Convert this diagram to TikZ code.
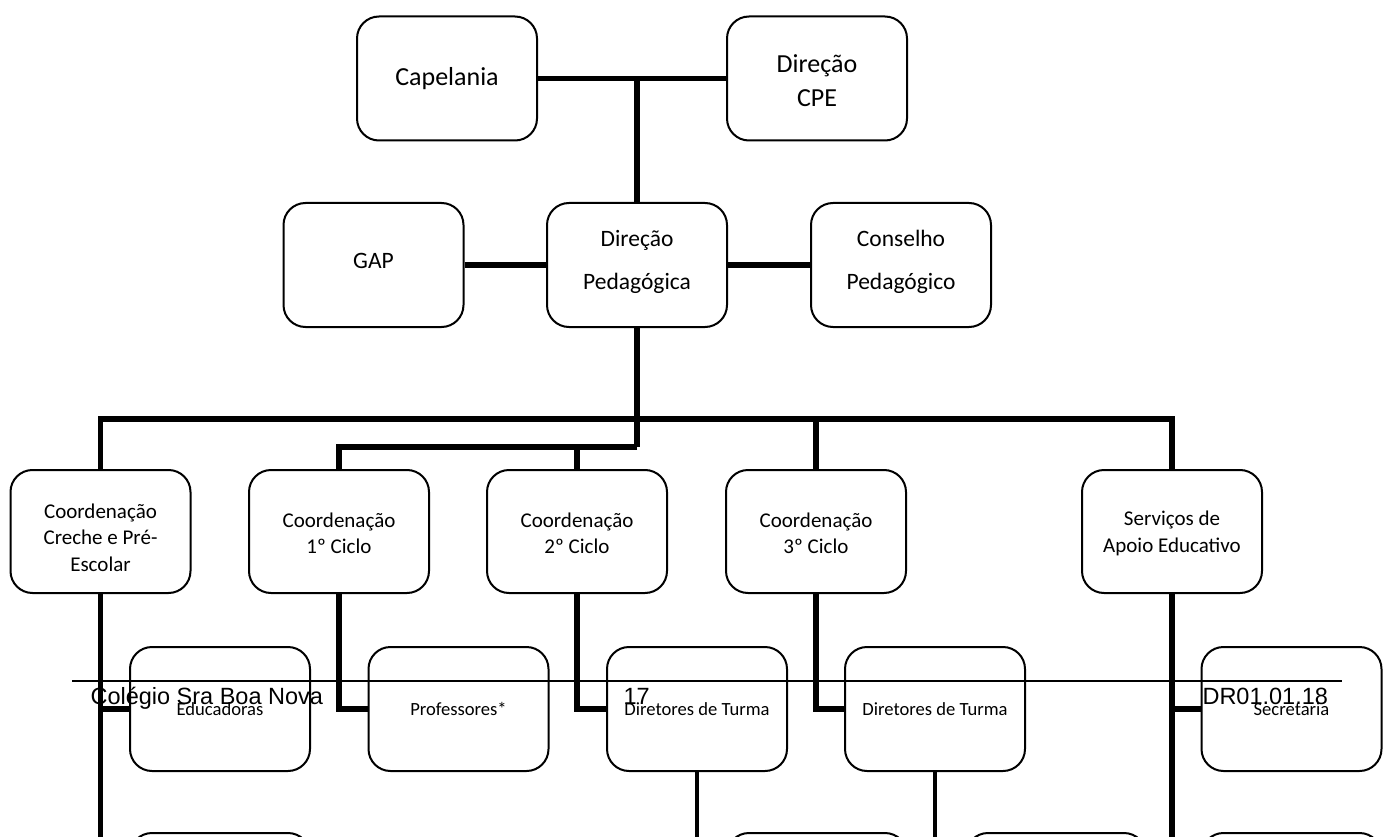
\documentclass[tikz,border=0pt]{standalone}
\usepackage{fontspec}
\setmainfont{Carlito}
\newfontfamily\arialf{Liberation Sans}
\begin{document}
\begin{tikzpicture}[x=1pt,y=-1pt,
  box/.style={draw, line width=2pt, rounded corners=22pt, minimum width=180pt,
    minimum height=124pt, align=center, fill=white, inner sep=0pt},
  fa/.style={font=\fontsize{26}{34}\selectfont},
  fb/.style={font=\fontsize{23.5}{43}\selectfont},
  fc/.style={font=\fontsize{21}{26.5}\selectfont},
  fd/.style={font=\fontsize{18.6}{22}\selectfont},
  lab/.style 2 args={label={[#1,align=center]center:#2}},
  thick link/.style={line width=5.5pt},
  thin link/.style={line width=3.5pt},
  footer/.style={anchor=base west, font=\arialf\fontsize{23.5}{28}\selectfont}]
\useasboundingbox (0,0) rectangle (1392,837);
\clip (0,0) rectangle (1392,837);
% row 1
\node[box,fa] (cap) at (447,78.5) {Capelania};
\node[box,lab={fa,yshift=-2pt}{Direção\\CPE}] (cpe) at (817,78.5) {};
% row 2
\node[box,lab={fb,yshift=4pt}{GAP}] (gap) at (373.5,265) {};
\node[box,lab={fb,yshift=3pt}{Direção\\Pedagógica}] (dp) at (637,265) {};
\node[box,lab={fb,yshift=3pt}{Conselho\\Pedagógico}] (cp) at (901,265) {};
% row 3
\tikzset{crow/.style={box,minimum height=123pt}}
\node[crow,lab={fc,yshift=-6pt}{Coordenação\\Creche e Pré-\\Escolar}] (cre) at (100.5,531.5) {};
\node[crow,lab={fc,yshift=-2pt}{Coordenação\\1º Ciclo}] (c1) at (339,531.5) {};
\node[crow,lab={fc,yshift=-2pt}{Coordenação\\2º Ciclo}] (c2) at (577,531.5) {};
\node[crow,lab={fc,yshift=-2pt}{Coordenação\\3º Ciclo}] (c3) at (816,531.5) {};
\node[crow,lab={fc,yshift=-2pt}{Serviços de\\Apoio Educativo}] (sae) at (1172,531.5) {};
% row 4
\node[box,fd] (edu) at (220,709) {Educadoras};
\node[box,fd] (prof) at (458.5,709) {Professores*};
\node[box,fd] (dt1) at (697,709) {Diretores de Turma};
\node[box,fd] (dt2) at (935,709) {Diretores de Turma};
\node[box,fd] (sec) at (1291.5,709) {Secretaria};
% row 5 (cut off)
\node[box,fd] (edu2) at (220,895) {};
\node[box,fd] (dt1b) at (817,895) {};
\node[box,fd] (dt2b) at (1056,895) {};
\node[box,fd] (sec2) at (1291.5,895) {};
% connectors
\coordinate (top) at (637,78.5);
\draw[thick link] (cap.east) -- (cpe.west);
\draw[thick link] (top) -- (dp.north);
\draw[thick link] (gap.east) -- (dp.west);
\draw[thick link] (dp.east) -- (cp.west);
\coordinate (barA) at (637,419);
\coordinate (barB) at (637,447);
\draw[thick link] (dp.south) -- (barB);
\draw[thick link, line join=miter] (cre.north) |- (barA) -| (sae.north);
\draw[thick link] (barA) -| (c3.north);
\draw[thick link, line join=miter] (barB) -| (c1.north);
\draw[thick link] (barB) -| (c2.north);
\draw[thick link] (cre.south) |- (edu.west);
\draw[thick link] (cre.south) |- (edu2.west);
\draw[thick link] (c1.south) |- (prof.west);
\draw[thick link] (c2.south) |- (dt1.west);
\draw[thick link] (c3.south) |- (dt2.west);
\draw[thick link] (sae.south) |- (sec.west);
\draw[thick link] (sae.south) |- (sec2.west);
\draw[thin link] (dt1.south) |- (dt1b.west);
\draw[thin link] (dt2.south) |- (dt2b.west);
% footer
\coordinate (fl) at (72,681);
\coordinate (fr) at (1342,681);
\draw[line width=1.5pt] (fl) -- (fr);
\node[footer] (f1) at (87,704) {Colégio Sra Boa Nova};
\node[footer] (f2) at (620,704) {17};
\node[footer] (f3) at (1199,704) {DR01.01.18};
\end{tikzpicture}
\end{document}
